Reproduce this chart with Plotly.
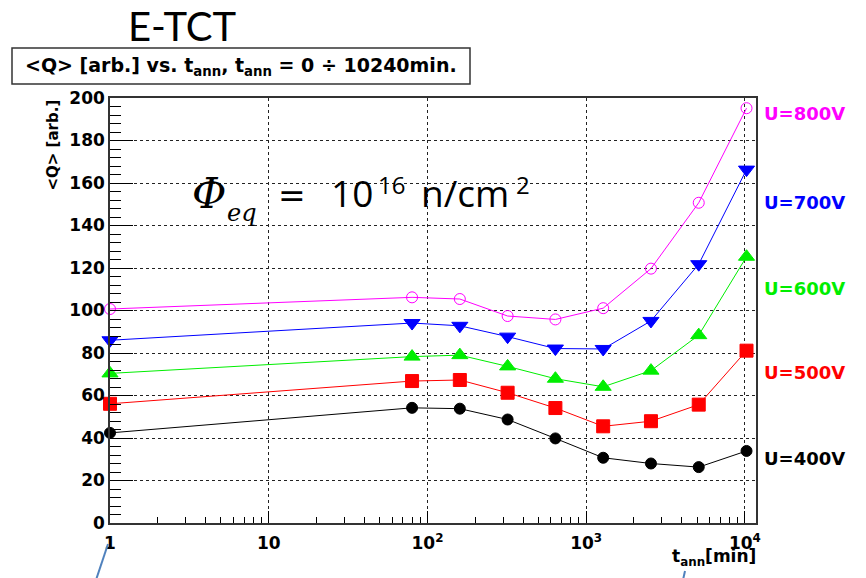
import plotly.graph_objects as go

# ---- data ----
t_ann = [1, 80, 160, 320, 640, 1280, 2560, 5120, 10240]
q_400 = [42.4, 54.2, 53.8, 48.7, 39.8, 30.7, 28.0, 26.3, 33.9]
q_500 = [56.1, 66.8, 67.3, 61.3, 54.1, 45.5, 47.9, 55.7, 81.1]
q_600 = [70.4, 78.3, 79.0, 73.7, 67.9, 64.1, 71.7, 88.4, 125.3]
q_700 = [86.0, 94.1, 92.8, 87.7, 82.1, 81.9, 95.1, 121.8, 166.3]
q_800 = [100.7, 106.2, 105.4, 97.4, 95.8, 101.1, 119.7, 150.7, 195.2]
labels = ["U=400V", "U=500V", "U=600V", "U=700V", "U=800V"]

x_tickvals = [1, 10, 100, 1000, 10000]
x_ticktext = ["1", "10", "10<sup>2</sup>", "10<sup>3</sup>", "10<sup>4</sup>"]
y_tickvals = [0, 20, 40, 60, 80, 100, 120, 140, 160, 180, 200]

W, H = 866, 578
L, R, T, B = 110, 110, 98, 55
PW, PH = W - L - R, H - T - B

def px(x):
    return (x - L) / PW

def py(y):
    return (H - B - y) / PH

series = [
    (q_400, "#000000", "circle", 11),
    (q_500, "#ff0000", "square", 13),
    (q_600, "#00ee00", "triangle-up", 14),
    (q_700, "#0000ff", "triangle-down", 14),
    (q_800, "#ff00ff", "circle-open", 11),
]
label_y = [458, 373, 288, 202, 113]

fig = go.Figure()
for (vals, col, sym, sz), lab in zip(series, labels):
    fig.add_trace(go.Scatter(
        x=t_ann, y=vals, mode="lines+markers", name=lab,
        line=dict(color=col, width=1),
        marker=dict(symbol=sym, size=sz, color=col,
                    line=dict(color=col, width=1)),
        cliponaxis=False,
    ))

ROOTFONT = "DejaVu Sans"

annotations = []
for lab, (vals, col, sym, sz), ly in zip(labels, series, label_y):
    annotations.append(dict(
        text="<b>%s</b>" % lab, xref="paper", yref="paper",
        x=px(762), y=py(ly), xanchor="left", yanchor="middle",
        showarrow=False, font=dict(family=ROOTFONT, size=18, color=col)))

def txt(text, x, y, family, size, xanchor="left"):
    return dict(text=text, xref="paper", yref="paper", x=px(x), y=py(y),
                xanchor=xanchor, yanchor="middle", showarrow=False,
                font=dict(family=family, size=size, color="black"))

annotations += [
    txt("E-TCT", 182, 26, "Lato", 40, "center"),
    txt("<b>&lt;Q&gt; [arb.] vs. t<sub>ann</sub>, t<sub>ann</sub> = 0 ÷ 10240min.</b>",
        241, 66, ROOTFONT, 19, "center"),
    dict(text="<b>&lt;Q&gt; [arb.]</b>", xref="paper", yref="paper",
         x=px(53), y=py(97), xanchor="center", yanchor="top", textangle=-90,
         showarrow=False, font=dict(family=ROOTFONT, size=15, color="black")),
    dict(text="<b>t<sub>ann</sub>[min]</b>", xref="paper", yref="paper",
         x=px(758), y=py(557), xanchor="right", yanchor="middle",
         showarrow=False, font=dict(family=ROOTFONT, size=17, color="black")),
    # fluence label, built piece by piece
    txt("<i>Φ</i>", 190, 193, "DejaVu Serif", 42),
    txt("<i>eq</i>", 225, 213, "DejaVu Serif", 24),
    txt("=", 276, 195, "DejaVu Serif", 33),
    txt("10", 329, 192, "Open Sans", 37),
    txt("16", 376, 184, "Open Sans", 24),
    txt("n/cm", 419, 192, "Open Sans", 37),
    txt("2", 514, 184, "Open Sans", 24),
]

shapes = [
    dict(type="rect", xref="paper", yref="paper",
         x0=px(12), x1=px(470), y0=py(48), y1=py(84),
         line=dict(color="#333333", width=1.5), fillcolor="rgba(0,0,0,0)"),
    dict(type="line", xref="paper", yref="paper",
         x0=px(108), y0=py(544), x1=px(96), y1=py(580),
         line=dict(color="#4f81bd", width=2)),
    dict(type="line", xref="paper", yref="paper",
         x0=px(685), y0=py(571), x1=px(683), y1=py(580),
         line=dict(color="#4f81bd", width=2)),
]

x_minor = [m * 10 ** d for d in range(0, 4) for m in range(2, 10)] + [20000]

fig.update_layout(
    width=W, height=H,
    margin=dict(l=L, r=R, t=T, b=B),
    paper_bgcolor="white", plot_bgcolor="white",
    showlegend=False,
    annotations=annotations, shapes=shapes,
    font=dict(family=ROOTFONT, color="black"),
)
fig.update_xaxes(
    type="log", range=[0, 4.07],
    tickmode="array", tickvals=x_tickvals, ticktext=["<b>%s</b>" % t for t in x_ticktext],
    ticks="inside", ticklen=12, tickwidth=1, tickcolor="black",
    tickfont=dict(family=ROOTFONT, size=17, color="black"),
    ticklabelstandoff=4,
    showgrid=True, gridcolor="#222222", griddash="dot", gridwidth=1,
    showline=True, linecolor="#333333", linewidth=1.5, mirror=True,
    zeroline=False,
    minor=dict(tickmode="array", tickvals=x_minor, ticks="inside",
               ticklen=6, tickcolor="black", showgrid=False),
)
fig.update_yaxes(
    range=[0, 200],
    tickmode="array", tickvals=y_tickvals,
    ticktext=["<b>%d</b>" % v for v in y_tickvals],
    ticks="inside", ticklen=23, tickwidth=1, tickcolor="black",
    tickfont=dict(family=ROOTFONT, size=17, color="black"),
    showgrid=True, gridcolor="#222222", griddash="dot", gridwidth=1,
    showline=True, linecolor="#333333", linewidth=1.5, mirror=True,
    zeroline=False,
    minor=dict(dtick=4, ticks="inside", ticklen=11, tickcolor="black",
               showgrid=False),
)

fig.write_html("out.html")
